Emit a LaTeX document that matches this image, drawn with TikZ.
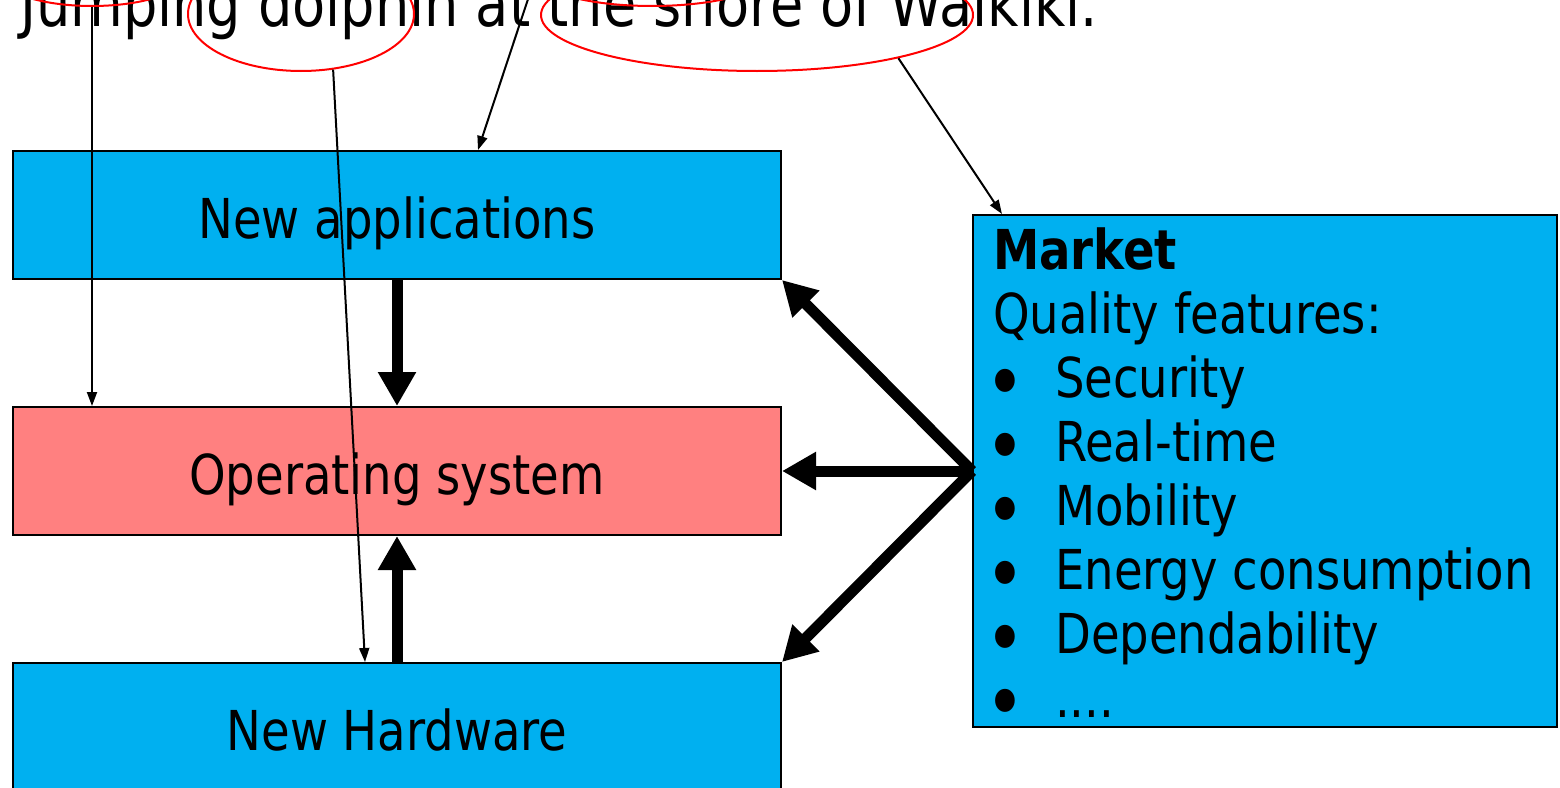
\documentclass[tikz,border=0pt]{standalone}
\usepackage{fontspec}
\setmainfont{DejaVu Sans Condensed}[FakeStretch=0.94]
\usetikzlibrary{arrows.meta,shapes.geometric}
\definecolor{kcyan}{RGB}{0,176,240}
\definecolor{kpink}{RGB}{255,128,128}
\newcommand{\fourdots}{....}
\newcommand{\bigdot}{\hspace*{-8pt}\smash{\raisebox{-13pt}{\scalebox{1.45}{\textbullet}}}}
\tikzset{
  box/.style={draw, line width=2pt, minimum width=768pt, minimum height=128pt, text height=46pt, text depth=0pt, font=\fontsize{55}{64}\selectfont},
  kapp/.style={box, fill=kcyan}, kos/.style={box, fill=kpink},
  kmarket/.style={draw, line width=2pt, fill=kcyan, minimum width=584pt, minimum height=512pt},
  mtext/.style={anchor=base west, inner sep=0pt, font=\fontsize{55}{64}\selectfont},
  ring/.style={ellipse, draw=red, line width=2pt, inner sep=0pt},
  flow/.style={-{Triangle[length=34pt, width=36pt]}, line width=11pt},
  thinflow/.style={-{Triangle[length=14pt, width=10pt]}, line width=2pt},
}
\begin{document}
\begin{tikzpicture}[x=1pt, y=-1pt]
    \path[use as bounding box, clip] (0,0) rectangle (1560,787);
    \fill[white] (0,0) rectangle (1560,787);
    % caption line, mostly cut off at the top
    \node[mtext, font=\fontsize{64}{70}\selectfont] (caption) at (20,26) {Jumping dolphin at the shore of Waikiki.};
    \node[ring, minimum width=186pt, minimum height=62pt] (e1) at (92,-25) {};
    \node[ring, minimum width=226pt, minimum height=114pt] (e2) at (301,14) {};
    \node[ring, minimum width=230pt, minimum height=62pt] (e3) at (652,-25) {};
    \node[ring, minimum width=432pt, minimum height=112pt] (e4) at (757,15) {};
    % layers
    \node[kapp] (apps) at (397,215) {New applications};
    \node[kos] (os) at (397,471) {Operating system};
    \node[kapp] (hw) at (397,727) {New Hardware};
    \node[kmarket] (market) at (1265,471) {};
    \node[mtext] (mhead) at (993,269) {\bfseries Market};
    \node[mtext] (msub) at (993,333) {Quality features:};
    \foreach \feat [count=\i] in {Security, Real-time, Mobility, Energy consumption, Dependability, \fourdots}
      \node[mtext] (mitem\i) at (993,{333+64*\i}) {\makebox[62pt][l]{\bigdot}\feat};
    \draw[flow] (apps) -- (os);
    \draw[flow] (hw) -- (os);
    \draw[flow] (market.west) -- (apps.south east);
    \draw[flow] (market.west) -- (os.east);
    \draw[flow] (market.west) -- (hw.north east);
    % pointers from the caption
    \draw[thinflow] (e1.south) -- (e1.south |- os.north);
    \draw[thinflow] (e2.-60) -- ([xshift=-32pt]hw.north);
    \draw[thinflow] (e3.west) -- ([xshift=81pt]apps.north);
    \draw[thinflow] (e4.-17) -- ([xshift=30pt]market.north west);
  \end{tikzpicture}
\end{document}
